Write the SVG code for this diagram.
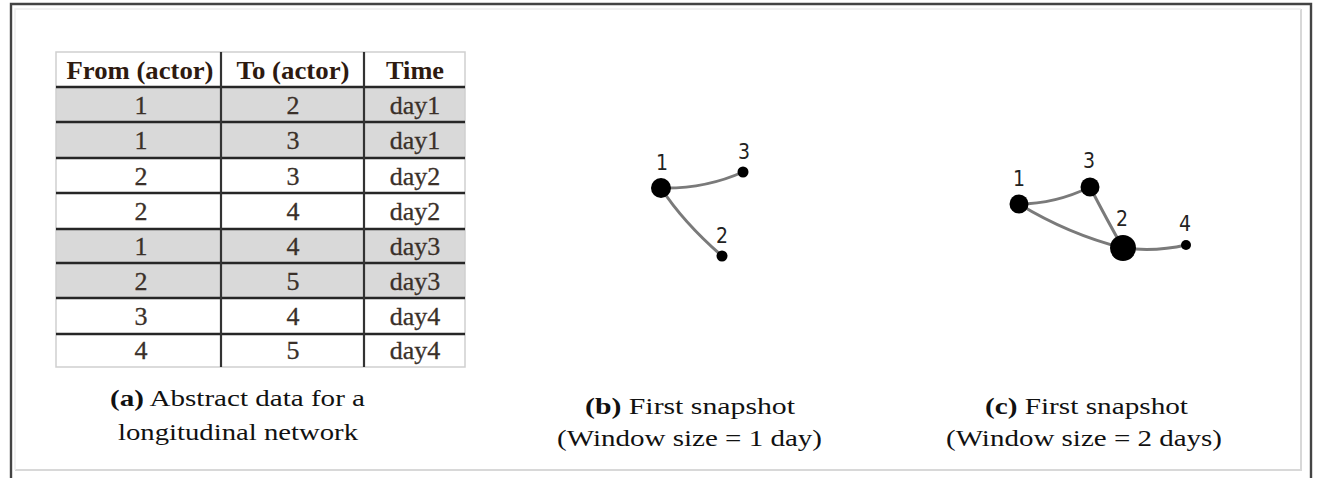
<svg xmlns="http://www.w3.org/2000/svg" width="1320" height="478" viewBox="0 0 1320 478">
<style>
.hdr{font-family:"Liberation Serif","Times New Roman",serif;font-weight:bold;font-size:26px;fill:#2e1a10;text-anchor:middle}
.cell{font-family:"Liberation Serif","Times New Roman",serif;font-size:26px;fill:#3a3029;text-anchor:middle;stroke:#3a3029;stroke-width:0.3}
.cap{font-family:"Liberation Serif","Times New Roman",serif;font-size:24px;fill:#111}
.capb{font-weight:bold}
.rowg{fill:#d9d9d9}
.roww{fill:#ffffff}
.hline{stroke:#262626;stroke-width:2.6}
.vline{stroke:#333;stroke-width:2.2}
.edge{fill:none;stroke:#7a7a7a;stroke-width:3}
.node{fill:#000}
.lbl{font-family:"DejaVu Sans Condensed","DejaVu Sans",sans-serif;font-size:21px;fill:#222;text-anchor:middle}
</style>
<rect x="0" y="0" width="1320" height="478" fill="#ffffff"/>
<g id="frame">
<path d="M11 478 V4 H1311 V478" fill="none" stroke="#444" stroke-width="2.4"/>
<path d="M15 470 H1301 V9" fill="none" stroke="#d8d8d8" stroke-width="2"/>
<path d="M15 470 V9 H1301" fill="none" stroke="#eeeeee" stroke-width="1.5"/>
</g>
<g id="table">
<rect x="56" y="52" width="409" height="35" class="roww"/>
<rect x="56" y="87" width="409" height="35" class="rowg"/>
<rect x="56" y="122" width="409" height="36" class="rowg"/>
<rect x="56" y="158" width="409" height="35" class="roww"/>
<rect x="56" y="193" width="409" height="36" class="roww"/>
<rect x="56" y="229" width="409" height="34" class="rowg"/>
<rect x="56" y="263" width="409" height="35" class="rowg"/>
<rect x="56" y="298" width="409" height="36" class="roww"/>
<rect x="56" y="334" width="409" height="33" class="roww"/>
<rect x="56" y="52" width="409" height="315" fill="none" stroke="#cfcfcf" stroke-width="1.5"/>
<line x1="56" y1="87" x2="465" y2="87" class="hline"/>
<line x1="56" y1="122" x2="465" y2="122" class="hline"/>
<line x1="56" y1="158" x2="465" y2="158" class="hline"/>
<line x1="56" y1="193" x2="465" y2="193" class="hline"/>
<line x1="56" y1="229" x2="465" y2="229" class="hline"/>
<line x1="56" y1="263" x2="465" y2="263" class="hline"/>
<line x1="56" y1="298" x2="465" y2="298" class="hline"/>
<line x1="56" y1="334" x2="465" y2="334" class="hline"/>
<line x1="221" y1="52" x2="221" y2="367" class="vline" stroke="#555"/>
<line x1="364" y1="52" x2="364" y2="367" class="vline"/>
<text x="140" y="79" class="hdr" textLength="147" lengthAdjust="spacingAndGlyphs">From (actor)</text>
<text x="293" y="79" class="hdr" textLength="113" lengthAdjust="spacingAndGlyphs">To (actor)</text>
<text x="415" y="79" class="hdr" textLength="58" lengthAdjust="spacingAndGlyphs">Time</text>
<text x="141" y="114" class="cell">1</text><text x="293" y="114" class="cell">2</text><text x="415" y="114" class="cell">day1</text>
<text x="141" y="149" class="cell">1</text><text x="293" y="149" class="cell">3</text><text x="415" y="149" class="cell">day1</text>
<text x="141" y="185" class="cell">2</text><text x="293" y="185" class="cell">3</text><text x="415" y="185" class="cell">day2</text>
<text x="141" y="220" class="cell">2</text><text x="293" y="220" class="cell">4</text><text x="415" y="220" class="cell">day2</text>
<text x="141" y="255" class="cell">1</text><text x="293" y="255" class="cell">4</text><text x="415" y="255" class="cell">day3</text>
<text x="141" y="290" class="cell">2</text><text x="293" y="290" class="cell">5</text><text x="415" y="290" class="cell">day3</text>
<text x="141" y="325" class="cell">3</text><text x="293" y="325" class="cell">4</text><text x="415" y="325" class="cell">day4</text>
<text x="141" y="359" class="cell">4</text><text x="293" y="359" class="cell">5</text><text x="415" y="359" class="cell">day4</text>
</g>
<g id="captions">
<text x="110" y="406" class="cap" textLength="255" lengthAdjust="spacingAndGlyphs"><tspan class="capb">(a)</tspan> Abstract data for a</text>
<text x="118" y="440" class="cap" textLength="240" lengthAdjust="spacingAndGlyphs">longitudinal network</text>
<text x="585" y="414" class="cap" textLength="210" lengthAdjust="spacingAndGlyphs"><tspan class="capb">(b)</tspan> First snapshot</text>
<text x="557" y="446" class="cap" textLength="265" lengthAdjust="spacingAndGlyphs">(Window size = 1 day)</text>
<text x="985" y="414" class="cap" textLength="203" lengthAdjust="spacingAndGlyphs"><tspan class="capb">(c)</tspan> First snapshot</text>
<text x="946" y="446" class="cap" textLength="276" lengthAdjust="spacingAndGlyphs">(Window size = 2 days)</text>
</g>
<g id="connectors">
<path d="M661 188 Q705 189 743 172" class="edge"/>
<path d="M661 188 Q683 222 722 256" class="edge"/>
<path d="M1019 204 Q1055 204 1090 187" class="edge"/>
<path d="M1019 204 Q1068 234 1123 248" class="edge"/>
<path d="M1090 187 Q1107 220 1123 248" class="edge"/>
<path d="M1123 248 Q1156 252 1186 245" class="edge"/>
</g>
<g id="b-node1"><circle cx="661" cy="188" r="10" class="node"/><text x="662" y="170" class="lbl">1</text></g>
<g id="b-node3"><circle cx="743" cy="172" r="5.5" class="node"/><text x="744" y="159" class="lbl">3</text></g>
<g id="b-node2"><circle cx="722" cy="256" r="5.5" class="node"/><text x="722" y="243" class="lbl">2</text></g>
<g id="c-node1"><circle cx="1019" cy="204" r="9.5" class="node"/><text x="1019" y="186" class="lbl">1</text></g>
<g id="c-node3"><circle cx="1090" cy="187" r="9.5" class="node"/><text x="1089" y="168" class="lbl">3</text></g>
<g id="c-node2"><circle cx="1123" cy="248" r="13" class="node"/><text x="1122" y="226" class="lbl">2</text></g>
<g id="c-node4"><circle cx="1186" cy="245" r="5" class="node"/><text x="1185" y="231" class="lbl">4</text></g>
</svg>
